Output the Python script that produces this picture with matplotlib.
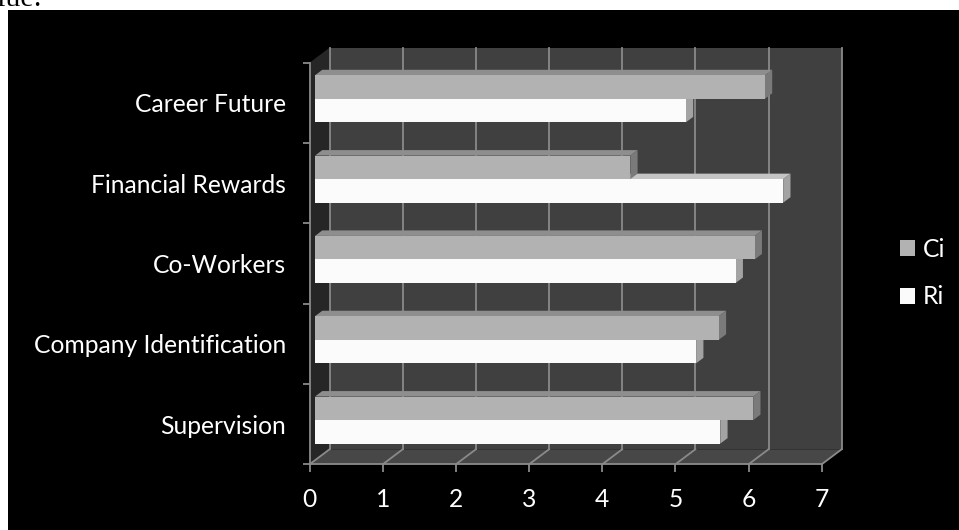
import matplotlib
matplotlib.use("Agg")
import matplotlib.pyplot as plt
from matplotlib.patches import Polygon, Rectangle, Patch
import numpy as np

# survey factors, listed top to bottom
categories = ["Career Future", "Financial Rewards", "Co-Workers",
              "Company Identification", "Supervision"]
ci_values = [6.15, 4.31, 6.01, 5.52, 5.99]
ri_values = [5.07, 6.40, 5.75, 5.21, 5.54]
series_names = ["Ci", "Ri"]
x_ticks = [0, 1, 2, 3, 4, 5, 6, 7]

# colours
ci_front, ci_top, ci_side = "#b2b2b2", "#8e8e8e", "#7a7a7a"
ri_front, ri_top, ri_side = "#fbfbfb", "#c4c4c4", "#a3a3a3"
wall = "#404040"
left_wall = "#262626"
floor = "#474747"
grid = "#8a8a8a"

# fake 3D depth (data units)
DX, DY = 0.273, 0.187
F0, F1 = 0.27, 0.635       # bar depth span as fraction of the box depth
H = 0.293                  # bar height

fig = plt.figure(figsize=(9.59, 5.30), dpi=100, facecolor="black")
ax = fig.add_axes([309.6 / 959, 65.7 / 530, 512.1 / 959, 401.6 / 530])
ax.set_facecolor("none")
ax.set_xlim(0, 7)
ax.set_ylim(-0.5, 4.5)

n = len(categories)
ypos = np.arange(n)[::-1]
xmax = x_ticks[-1]
ylo, yhi = -0.5, n - 0.5

# walls and floor
ax.add_patch(Polygon([(DX, ylo + DY), (xmax + DX, ylo + DY), (xmax + DX, yhi + DY), (DX, yhi + DY)],
                     closed=True, fc=wall, ec="none", zorder=0, clip_on=False))
ax.add_patch(Polygon([(0, ylo), (DX, ylo + DY), (DX, yhi + DY), (0, yhi)],
                     closed=True, fc=left_wall, ec="none", zorder=0, clip_on=False))
ax.add_patch(Polygon([(0, ylo), (xmax, ylo), (xmax + DX, ylo + DY), (DX, ylo + DY)],
                     closed=True, fc=floor, ec="none", zorder=0, clip_on=False))

# gridlines on the back wall and floor
for k in x_ticks:
    ax.plot([k + DX, k + DX], [ylo + DY, yhi + DY], color=grid, lw=1.3, zorder=1, clip_on=False)
    ax.plot([k, k + DX], [ylo, ylo + DY], color=grid, lw=1.3, zorder=1, clip_on=False)

fx, fy = F0 * DX, F0 * DY
bdx, bdy = (F1 - F0) * DX, (F1 - F0) * DY


def box_faces(v, yb, top_c, side_c):
    yt = yb + H
    x0, x1 = fx, fx + v
    ax.add_patch(Polygon([(x0, yt), (x1, yt), (x1 + bdx, yt + bdy), (x0 + bdx, yt + bdy)],
                         closed=True, fc=top_c, ec="none", zorder=2))
    ax.add_patch(Polygon([(x1, yb), (x1 + bdx, yb + bdy), (x1 + bdx, yt + bdy), (x1, yt)],
                         closed=True, fc=side_c, ec="none", zorder=2))


for y, c, r in zip(ypos, ci_values, ri_values):
    base = y + fy
    box_faces(r, base - H, ri_top, ri_side)
    box_faces(c, base, ci_top, ci_side)

ax.barh(ypos + fy + H / 2, ci_values, height=H, left=fx, color=ci_front, zorder=3)
ax.barh(ypos + fy - H / 2, ri_values, height=H, left=fx, color=ri_front, zorder=3)

# axes
for s in ["top", "right"]:
    ax.spines[s].set_visible(False)
for s in ["left", "bottom"]:
    ax.spines[s].set_color(grid)
    ax.spines[s].set_linewidth(1.3)
    ax.spines[s].set_zorder(4)

font = "Lato"
fs = 17.7
ax.set_xticks(x_ticks)
ax.set_xticklabels([str(t) for t in x_ticks], fontsize=fs, color="white", family=font)
ax.tick_params(axis="x", length=6, width=1.3, color=grid, pad=11)

ax.set_yticks(np.arange(-0.5, n, 1.0))
ax.set_yticklabels([])
ax.tick_params(axis="y", which="major", length=5, width=1.3, color=grid)
ax.set_yticks(ypos, minor=True)
ax.set_yticklabels(categories, minor=True, fontsize=fs, color="white", family=font)
ax.tick_params(axis="y", which="minor", length=0, pad=17)

handles = [Patch(fc=ci_front, ec="none"), Patch(fc=ri_front, ec="none")]
fig.legend(handles, series_names, loc="center left", bbox_to_anchor=(900 / 959, 1 - 273 / 530),
           frameon=False, labelcolor="white", prop={"family": font, "size": fs},
           handlelength=0.62, handleheight=0.62, handletextpad=0.3, labelspacing=1.0,
           borderpad=0, borderaxespad=0)

# page margin around the chart
fig.add_artist(Rectangle((0, 1 - 10 / 530), 1, 10 / 530, transform=fig.transFigure,
                         fc="white", ec="none", zorder=10))
fig.add_artist(Rectangle((0, 0), 8 / 959, 1, transform=fig.transFigure,
                         fc="white", ec="none", zorder=10))
fig.text(-31 / 959, 1 - 6 / 530, "value:", family="Liberation Serif", fontsize=21.5,
         color="black", va="baseline", ha="left", zorder=11)

fig.savefig("out.png", dpi=100, facecolor="black")
